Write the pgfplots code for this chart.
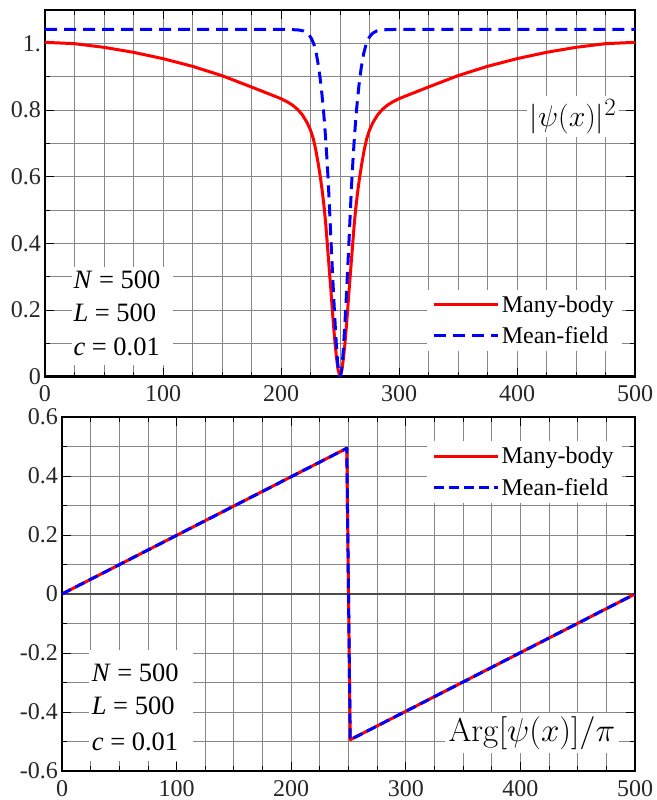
\documentclass[border=0pt]{standalone}
\usepackage[no-math]{fontspec}
\setmainfont{Liberation Serif}
\usepackage{pgfplots}
\pgfplotsset{compat=1.18}

\definecolor{mred}{RGB}{255,0,0}
\definecolor{mblue}{RGB}{0,0,255}
\definecolor{gridgray}{RGB}{135,135,135}

\pgfplotsset{
 mystyle/.style={
  scale only axis,
  enlargelimits=false,
  axis line style={line width=2.4pt, black},
  tick align=inside,
  major tick length=9pt,
  minor tick length=5pt,
  tick style={black, line width=0.9pt},
  grid=both,
  major grid style={gridgray, line width=0.9pt},
  minor grid style={gridgray, line width=0.9pt},
  xmin=0, xmax=500,
  xtick={0,100,200,300,400,500},
  xticklabels={0,100,200,300,400,500},
  minor x tick num=3,
  minor y tick num=1,
  ticklabel style={font=\fontsize{24}{28}\selectfont, text=black!85},
  xticklabel style={inner sep=0pt, anchor=north, yshift=-9pt},
  yticklabel style={inner sep=0pt, anchor=east, xshift=-4pt},
  legend style={draw=none, fill=white, font=\fontsize{24}{28}\selectfont, row sep=9pt, inner xsep=6pt, inner ysep=4pt},
  legend cell align=left,
  legend image code/.code={\path (0pt,0pt) -- (64pt,0pt); \draw[#1] (0pt,0pt) -- (52pt,0pt);},
 }
}

\begin{document}
\begin{tikzpicture}
\useasboundingbox (0,0) rectangle (656pt,800pt);

% ---------------- top panel ----------------
\begin{axis}[mystyle,
  at={(45pt,423.3pt)}, anchor=south west,
  width=590pt, height=366.7pt,
  ymin=0, ymax=1.1,
  ytick={0,0.2,0.4,0.6,0.8,1},
  yticklabels={0,0.2,0.4,0.6,0.8,1.},
  legend style={at={(rel axis cs:0.978,0.069)}, anchor=south east},
]
\addplot[mred, line width=3pt, line join=round] coordinates {
(0,1.003) (25,0.999) (50,0.988) (75,0.973) (100,0.954) (125,0.931) (150,0.903) (175,0.869) (190,0.848) (200,0.834) (206,0.823) (210,0.814) (214,0.802) (218,0.786) (222,0.763) (225,0.740) (227.5,0.712) (229.5,0.680) (231.5,0.640) (233.5,0.595) (235.2,0.550) (236.8,0.500) (238.1,0.450) (239.2,0.400) (240.3,0.350) (241.4,0.300) (242.5,0.250) (243.5,0.200) (244.6,0.150) (245.8,0.100) (247.1,0.055) (248.4,0.020) (250,0)
(251.6,0.020) (252.9,0.055) (254.2,0.100) (255.4,0.150) (256.5,0.200) (257.5,0.250) (258.6,0.300) (259.7,0.350) (260.8,0.400) (261.9,0.450) (263.2,0.500) (264.8,0.550) (266.5,0.595) (268.5,0.640) (270.5,0.680) (272.5,0.712) (275,0.740) (278,0.763) (282,0.786) (286,0.802) (290,0.814) (294,0.823) (300,0.834) (310,0.848) (325,0.869) (350,0.903) (375,0.931) (400,0.954) (425,0.973) (450,0.988) (475,0.999) (500,1.003)
};
\addlegendentry{Many-body}
\addplot[mblue, line width=3pt, dash pattern=on 12pt off 7pt] coordinates {
(0,1.042) (200,1.042) (210,1.041) (215,1.040) (219,1.037) (222,1.031) (224,1.024) (226,1.013) (228,0.996) (230,0.968) (232,0.927) (234,0.872) (236,0.800) (237,0.755) (238,0.706) (239,0.650) (240,0.588) (241,0.515) (242,0.435) (243,0.360) (244,0.285) (245,0.215) (246,0.150) (247,0.090) (248,0.043) (249,0.012) (250,0)
(251,0.012) (252,0.043) (253,0.090) (254,0.150) (255,0.215) (256,0.285) (257,0.360) (258,0.435) (259,0.515) (260,0.588) (261,0.650) (262,0.706) (263,0.755) (264,0.800) (266,0.872) (268,0.927) (270,0.968) (272,0.996) (274,1.013) (276,1.024) (278,1.031) (281,1.037) (285,1.040) (290,1.041) (300,1.042) (500,1.042)
};
\addlegendentry{Mean-field}
\fill[white] (axis cs:23.3,0.33) rectangle (axis cs:108.5,0.035);
\node[anchor=base west, inner sep=0pt, font=\fontsize{26.5}{30}\selectfont] at (axis cs:24,0.265) {\textit{N} = 500};
\node[anchor=base west, inner sep=0pt, font=\fontsize{26.5}{30}\selectfont] at (axis cs:24,0.165) {\textit{L} = 500};
\node[anchor=base west, inner sep=0pt, font=\fontsize{26.5}{30}\selectfont] at (axis cs:24,0.065) {\textit{c} = 0.01};
\node[fill=white, inner sep=2.5pt, font=\Huge, scale=1.2] at (axis cs:447.5,0.78) {$|\psi(x)|^2$};
\end{axis}

% ---------------- bottom panel ----------------
\begin{axis}[mystyle,
  at={(62pt,29pt)}, anchor=south west,
  width=573pt, height=354pt,
  ymin=-0.6, ymax=0.6,
  ytick={-0.6,-0.4,-0.2,0,0.2,0.4,0.6},
  yticklabels={-0.6,-0.4,-0.2,0,0.2,0.4,0.6},
  legend style={at={(rel axis cs:0.977,0.932)}, anchor=north east},
]
\addplot[black!70, line width=1.3pt, forget plot] coordinates {(0,0) (500,0)};
\addplot[mred, line width=3pt, line join=round] coordinates {
(0,0) (248.5,0.494) (251.5,-0.494) (500,0)
};
\addlegendentry{Many-body}
\addplot[mblue, line width=3pt, line join=round, dash pattern=on 10pt off 5pt] coordinates {
(0,0) (248.5,0.494) (251.5,-0.494) (500,0)
};
\addlegendentry{Mean-field}
\fill[white] (axis cs:23.6,-0.19) rectangle (axis cs:114,-0.566);
\node[anchor=base west, inner sep=0pt, font=\fontsize{26.5}{30}\selectfont] at (axis cs:25.9,-0.297) {\textit{N} = 500};
\node[anchor=base west, inner sep=0pt, font=\fontsize{26.5}{30}\selectfont] at (axis cs:25.9,-0.41) {\textit{L} = 500};
\node[anchor=base west, inner sep=0pt, font=\fontsize{26.5}{30}\selectfont] at (axis cs:25.9,-0.529) {\textit{c} = 0.01};
\node[fill=white, inner sep=2.5pt, font=\Huge, scale=1.33] at (axis cs:410,-0.472) {$\mathrm{Arg}[\psi(x)]/\pi$};
\end{axis}
\end{tikzpicture}
\end{document}
